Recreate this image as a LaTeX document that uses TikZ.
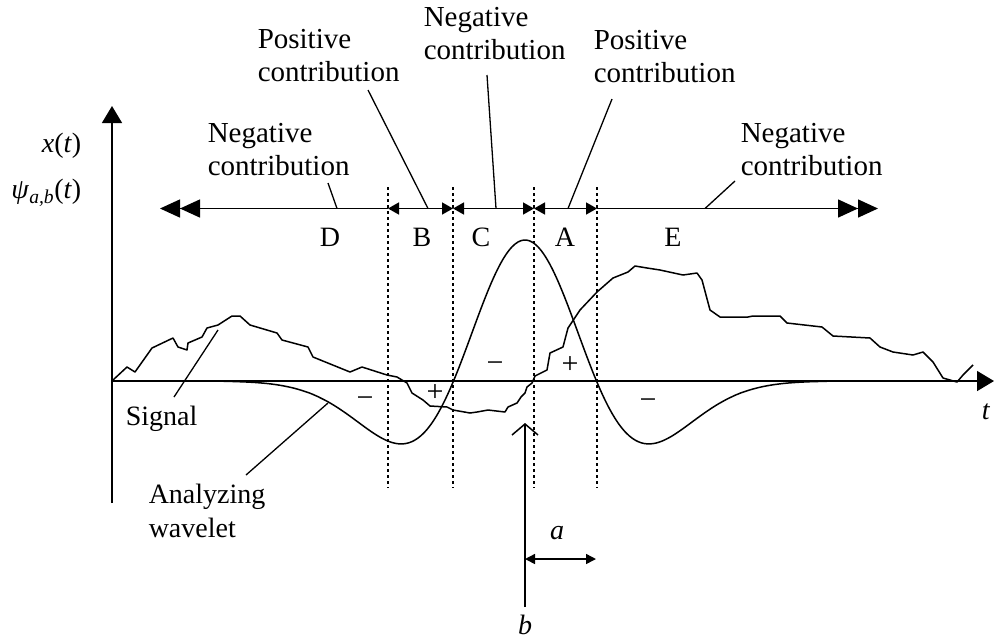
\documentclass[tikz,border=0pt]{standalone}
\usepackage{fontspec}
\setmainfont{Liberation Serif}
\usetikzlibrary{arrows.meta}
\tikzset{
  dbltip/.tip={Triangle[length=20pt,width=18pt,sep=0pt]Triangle[length=20pt,width=18pt]},
  smalltip/.tip={Triangle[length=11pt,width=12pt]},
  axtip/.tip={Triangle[length=17pt,width=20pt]},
  atip/.tip={Triangle[length=10pt,width=10pt]}}
\begin{document}
\begin{tikzpicture}[x=1pt,y=-1pt,line width=1.5pt,line join=round,
  lbl/.style={font=\fontsize{29}{33}\selectfont,align=left,inner sep=0pt,anchor=base west},
  letter/.style={font=\fontsize{28}{33}\selectfont,inner sep=0pt},
  sgn/.style={font=\fontsize{30}{30}\selectfont,inner sep=0pt},
  leader/.style={line width=1.3pt},
  sepline/.style={dash pattern=on 3pt off 3pt,line width=1.3pt}]
\useasboundingbox (0,0) rectangle (995,641);

% axes
\coordinate (o) at (112,381);
\coordinate (ytop) at (112,106);
\coordinate (ybot) at (112,503);
\coordinate (xend) at (994,381);
\draw[-{axtip}] (ybot) -- (ytop);
\draw[-{axtip}] (o) -- (xend);
\node[font=\fontsize{28}{33}\selectfont,inner sep=0pt] (tl) at (986,412) {\textit{t}};
\node[font=\fontsize{28}{33}\selectfont,inner sep=0pt,anchor=base east] (xl) at (82,152) {\textit{x}(\textit{t})};
\node[font=\fontsize{28}{33}\selectfont,inner sep=0pt,anchor=base east] (psil) at (82,198) {\textit{ψ}\textsubscript{\textit{a,b}}(\textit{t})};

% dotted separators
\foreach \xx/\nm in {388/s1,453/s2,534/s3,597/s4}{
  \coordinate (\nm t) at (\xx,187);
  \coordinate (\nm b) at (\xx,488);
  \draw[sepline] (\nm t) -- (\nm b);
}

% region arrows
\coordinate (lend) at (160,208.5);
\coordinate (rend) at (878,208.5);
\coordinate (p1) at (388,208.5);
\coordinate (p2) at (453,208.5);
\coordinate (p3) at (534,208.5);
\coordinate (p4) at (597,208.5);
\draw[{dbltip}-] (lend) -- (p1);
\draw[{smalltip}-{smalltip}] (p1) -- (p2);
\draw[{smalltip}-{smalltip}] (p2) -- (p3);
\draw[{smalltip}-{smalltip}] (p3) -- (p4);
\draw[-{dbltip}] (p4) -- (rend);

\node[letter] (D) at (330,237) {D};
\node[letter] (B) at (422,237) {B};
\node[letter] (C) at (481,237) {C};
\node[letter] (A) at (565,237) {A};
\node[letter] (E) at (673,237) {E};

% top labels (anchor = baseline of the last line)
\node[lbl] (lB) at (257,81) {Positive\\contribution};
\node[lbl] (lC) at (423,59) {Negative\\contribution};
\node[lbl] (lA) at (593,82) {Positive\\contribution};
\node[lbl] (lD) at (207,175) {Negative\\contribution};
\node[lbl] (lE) at (740,175) {Negative\\contribution};
\draw[leader] (368,90) -- (428,208.5);
\draw[leader] (487,75) -- (496,208.5);
\draw[leader] (612,99) -- (568,208.5);
\draw[leader] (328,183) -- (337,208.5);
\draw[leader] (735,181) -- (705,208.5);

% wavelet
\draw plot[domain=-4.9:4.95,samples=241,smooth] ({525+71.5*\x},{381-141*(1-(\x)^2)*exp(-((\x)^2)/2)});

% signal
\draw (113,380) -- (127,367) -- (135,372) -- (152,348) -- (173,338) -- (178,347) -- (187,350) -- (188,343) -- (202,337) -- (207,328) -- (218,325) -- (232,316) -- (240,316) -- (250,325) -- (277,333) -- (282,340) -- (308,347) -- (313,357) -- (350,372) -- (362,367) -- (387,375) -- (397,377) -- (407,383) -- (412,393) -- (423,400) -- (430,406) -- (447,407) -- (453,410) -- (470,413) -- (477,412) -- (488,410) -- (505,412) -- (508,407) -- (517,403) -- (521,397) -- (525,393) -- (527,387) -- (532,383) -- (535,376) -- (547,370) -- (550,353) -- (563,347) -- (568,328) -- (580,310) -- (597,292) -- (613,278) -- (628,272) -- (635,266) -- (647,268) -- (660,270) -- (683,275) -- (697,273) -- (702,280) -- (710,310) -- (720,317) -- (748,317) -- (753,316) -- (780,316) -- (787,323) -- (822,327) -- (833,336) -- (870,338) -- (880,347) -- (893,352) -- (913,355) -- (923,352) -- (933,362) -- (943,378) -- (957,382) -- (963,375) -- (973,365);

% bottom labels
\node[lbl,font=\fontsize{28}{33}\selectfont] (sig) at (125,425) {Signal};
\draw[leader] (218,330) -- (174,397);
\node[lbl,font=\fontsize{28}{34}\selectfont] (wav) at (148,537) {Analyzing\\wavelet};
\draw[leader] (328,403) -- (246,475);

% signs
\node[sgn] at (365,402) {−};
\node[sgn] at (435,393) {+};
\node[sgn] at (495,367) {−};
\node[sgn] at (570,365) {+};
\node[sgn] at (648,404) {−};

% b and a
\coordinate (bbot) at (525,607);
\coordinate (btop) at (525,423);
\draw[-{Straight Barb[length=11pt,width=26pt]}] (bbot) -- (btop);
\node[font=\fontsize{28}{33}\selectfont,inner sep=0pt] (bl) at (525,625) {\textit{b}};
\coordinate (a1) at (525,559);
\coordinate (a2) at (596,559);
\draw[{atip}-{atip}] (a1) -- (a2);
\node[font=\fontsize{28}{33}\selectfont,inner sep=0pt] (al) at (557,533) {\textit{a}};
\end{tikzpicture}
\end{document}
